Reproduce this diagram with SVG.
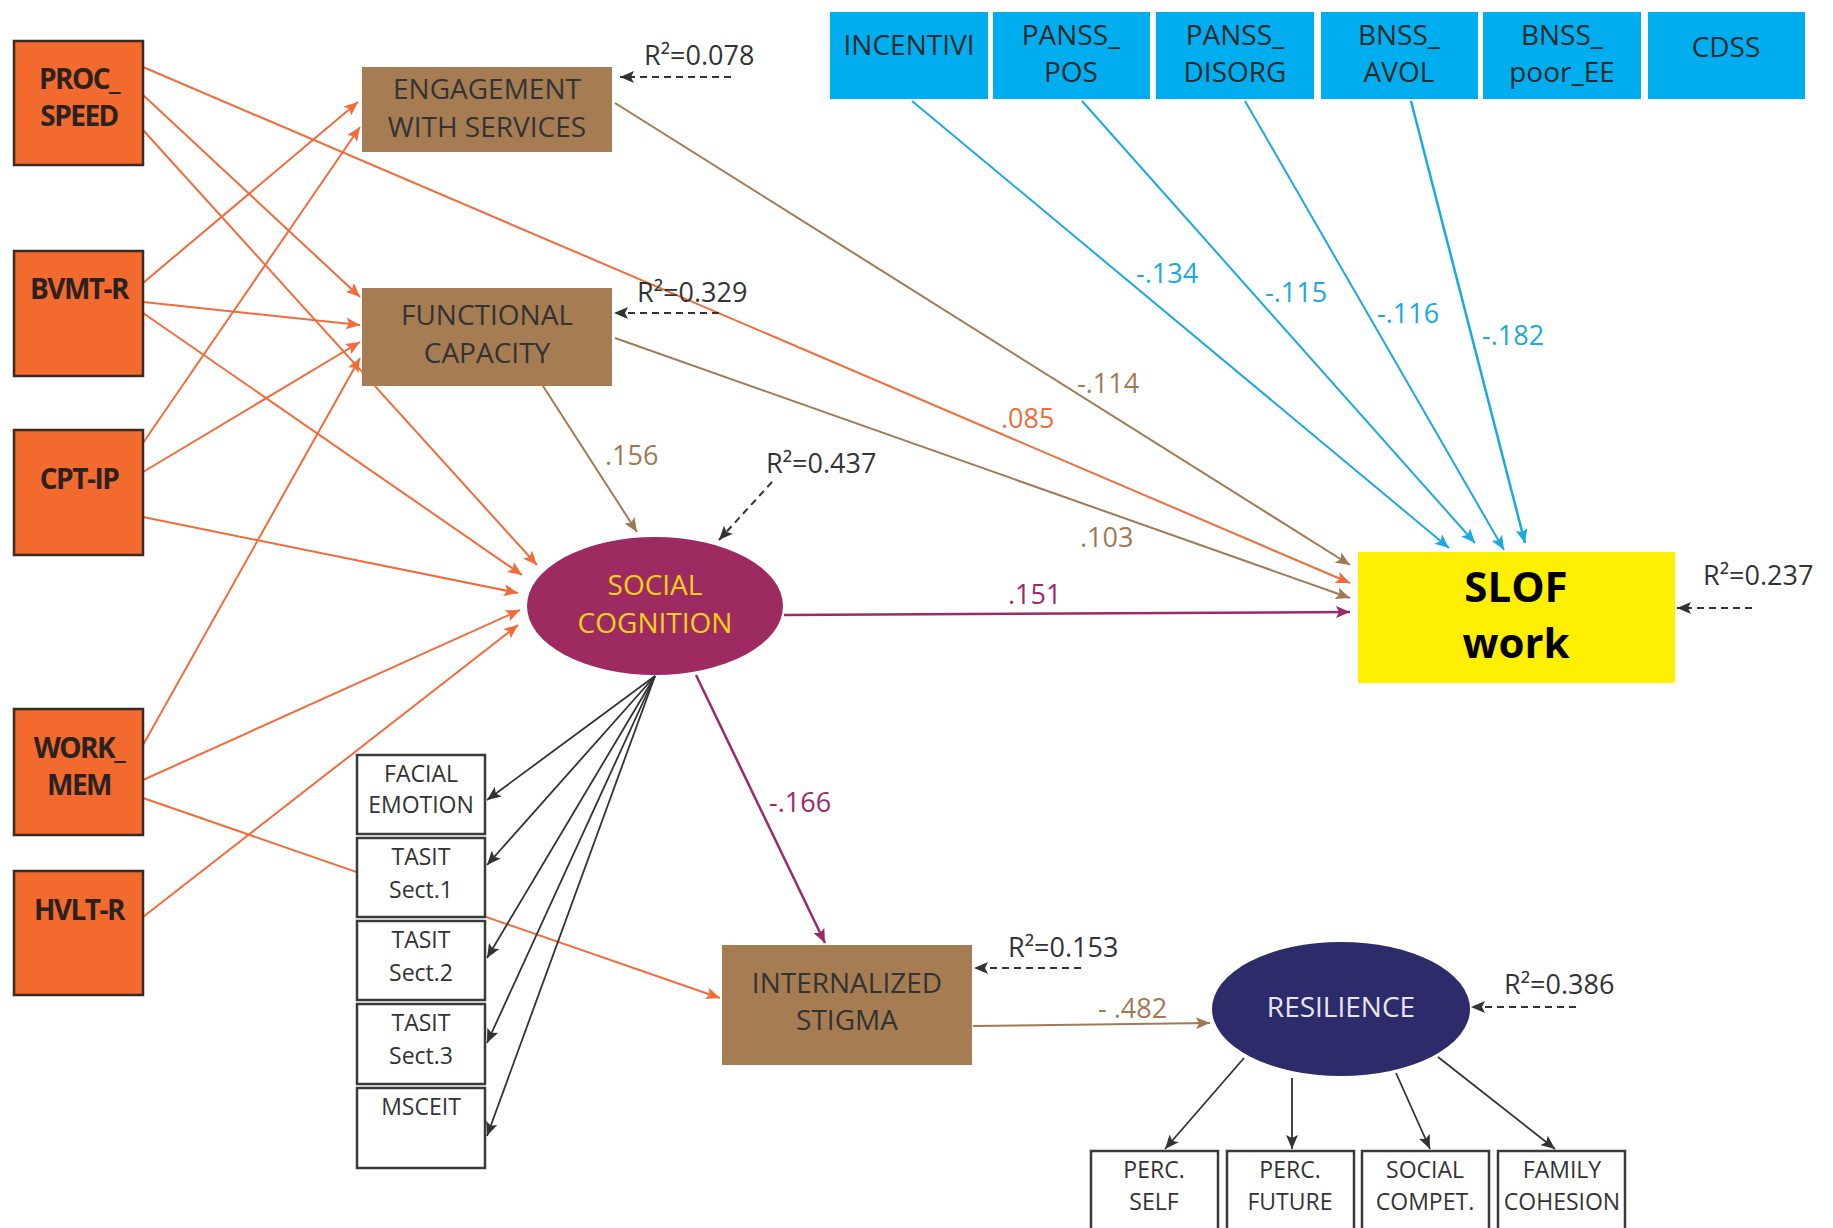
<svg xmlns="http://www.w3.org/2000/svg" width="1833" height="1228" viewBox="0 0 1833 1228">
<style>
text{font-family:"Open Sans","Noto Sans","DejaVu Sans",sans-serif;text-anchor:middle}
.ob{fill:#F26A2E;stroke:#3A2A22;stroke-width:2.5}
.ot{font-weight:bold;font-size:28px;fill:#2B2220;letter-spacing:-1.5px}
.br{fill:#A67C52}
.bt{font-size:28px;fill:#333}
.bl{fill:#00AEEF}
.blt{font-size:28px;fill:#2A2A2A}
.ind{fill:#fff;stroke:#3A3A3A;stroke-width:2.5}
.it{font-size:23px;fill:#333}
.r2{font-size:27px;fill:#333;text-anchor:start}
.lab{font-size:27px;text-anchor:start}
.eo{stroke:#F26B3A;stroke-width:2;fill:none;marker-end:url(#aO)}
.eb{stroke:#A07A55;stroke-width:2;fill:none;marker-end:url(#aB)}
.ec{stroke:#1AA9E1;stroke-width:2;fill:none;marker-end:url(#aC)}
.ep{stroke:#9B2A6B;stroke-width:2.5;fill:none;marker-end:url(#aP)}
.ek{stroke:#333;stroke-width:1.8;fill:none;marker-end:url(#aK)}
.ed{stroke:#333;stroke-width:2;stroke-dasharray:7,5;fill:none;marker-end:url(#aK)}
</style>
<defs>
<marker id="aO" viewBox="0 0 14 12" refX="14" refY="6" markerWidth="14" markerHeight="12" orient="auto" markerUnits="userSpaceOnUse"><path d="M0,0 L14,6 L0,12 L3,6 z" fill="#F26B3A"/></marker>
<marker id="aB" viewBox="0 0 14 12" refX="14" refY="6" markerWidth="14" markerHeight="12" orient="auto" markerUnits="userSpaceOnUse"><path d="M0,0 L14,6 L0,12 L3,6 z" fill="#A07A55"/></marker>
<marker id="aC" viewBox="0 0 14 12" refX="14" refY="6" markerWidth="14" markerHeight="12" orient="auto" markerUnits="userSpaceOnUse"><path d="M0,0 L14,6 L0,12 L3,6 z" fill="#1AA9E1"/></marker>
<marker id="aP" viewBox="0 0 14 12" refX="14" refY="6" markerWidth="14" markerHeight="12" orient="auto" markerUnits="userSpaceOnUse"><path d="M0,0 L14,6 L0,12 L3,6 z" fill="#9B2A6B"/></marker>
<marker id="aK" viewBox="0 0 14 12" refX="14" refY="6" markerWidth="14" markerHeight="12" orient="auto" markerUnits="userSpaceOnUse"><path d="M0,0 L14,6 L0,12 L3,6 z" fill="#333"/></marker>
</defs>
<rect width="1833" height="1228" fill="#fff"/>
<g id="connectors">
<line class="eo" x1="143" y1="67" x2="1350" y2="583"/>
<line class="eo" x1="143" y1="95" x2="360" y2="297"/>
<line class="eo" x1="143" y1="130" x2="537" y2="565"/>
<line class="eo" x1="143" y1="283" x2="358" y2="102"/>
<line class="eo" x1="143" y1="302" x2="360" y2="325"/>
<line class="eo" x1="143" y1="313" x2="522" y2="575"/>
<line class="eo" x1="143" y1="443" x2="360" y2="127"/>
<line class="eo" x1="143" y1="472" x2="360" y2="342"/>
<line class="eo" x1="143" y1="517" x2="518" y2="593"/>
<line class="eo" x1="143" y1="745" x2="360" y2="358"/>
<line class="eo" x1="143" y1="780" x2="520" y2="610"/>
<line class="eo" x1="143" y1="798" x2="720" y2="998"/>
<line class="eo" x1="143" y1="917" x2="518" y2="625"/>
<line class="eb" x1="615" y1="103" x2="1350" y2="565"/>
<line class="eb" x1="615" y1="338" x2="1350" y2="598"/>
<line class="eb" x1="543" y1="386" x2="637" y2="532"/>
<line class="eb" x1="973" y1="1026" x2="1210" y2="1023"/>
<line class="ep" x1="784" y1="615" x2="1350" y2="612"/>
<line class="ep" x1="696" y1="675" x2="825" y2="943"/>
<line class="ec" x1="912" y1="101" x2="1449" y2="548"/>
<line class="ec" x1="1082" y1="101" x2="1475" y2="543"/>
<line class="ec" x1="1245" y1="101" x2="1504" y2="550"/>
<line class="ec" x1="1411" y1="101" x2="1525" y2="543" style="stroke-width:2.5"/>
<line class="ek" x1="655" y1="676" x2="487" y2="800"/>
<line class="ek" x1="655" y1="676" x2="487" y2="865"/>
<line class="ek" x1="655" y1="676" x2="487" y2="958"/>
<line class="ek" x1="655" y1="676" x2="487" y2="1043"/>
<line class="ek" x1="655" y1="676" x2="487" y2="1136"/>
<line class="ek" x1="1244" y1="1058" x2="1165" y2="1149"/>
<line class="ek" x1="1292" y1="1078" x2="1292" y2="1149"/>
<line class="ek" x1="1396" y1="1073" x2="1430" y2="1149"/>
<line class="ek" x1="1438" y1="1057" x2="1555" y2="1149"/>
<line class="ed" x1="731" y1="77" x2="620" y2="77"/>
<line class="ed" x1="719" y1="313" x2="614" y2="313"/>
<line class="ed" x1="772" y1="482" x2="719" y2="540"/>
<line class="ed" x1="1752" y1="608" x2="1677" y2="608"/>
<line class="ed" x1="1081" y1="968" x2="974" y2="968"/>
<line class="ed" x1="1576" y1="1007" x2="1471" y2="1007"/>
<text class="lab" x="1001" y="428" fill="#F26B3A">.085</text>
<text class="lab" x="1077" y="393" fill="#A07A55">-.114</text>
<text class="lab" x="1080" y="547" fill="#A07A55">.103</text>
<text class="lab" x="605" y="465" fill="#A07A55">.156</text>
<text class="lab" x="1098" y="1018" fill="#A07A55">- .482</text>
<text class="lab" x="1008" y="604" fill="#9B2A6B">.151</text>
<text class="lab" x="769" y="812" fill="#9B2A6B">-.166</text>
<text class="lab" x="1136" y="283" fill="#1AA9E1">-.134</text>
<text class="lab" x="1265" y="302" fill="#1AA9E1">-.115</text>
<text class="lab" x="1377" y="323" fill="#1AA9E1">-.116</text>
<text class="lab" x="1482" y="345" fill="#1AA9E1">-.182</text>
<text class="r2" x="644" y="65">R²=0.078</text>
<text class="r2" x="637" y="302">R²=0.329</text>
<text class="r2" x="766" y="473">R²=0.437</text>
<text class="r2" x="1703" y="585">R²=0.237</text>
<text class="r2" x="1008" y="957">R²=0.153</text>
<text class="r2" x="1504" y="994">R²=0.386</text>
</g>
<g id="proc_speed"><rect class="ob" x="14" y="41" width="129" height="124"/><text class="ot" x="79" y="89">PROC_</text><text class="ot" x="79" y="126">SPEED</text></g>
<g id="bvmt_r"><rect class="ob" x="14" y="251" width="129" height="125"/><text class="ot" x="79" y="299">BVMT-R</text></g>
<g id="cpt_ip"><rect class="ob" x="14" y="430" width="129" height="125"/><text class="ot" x="79" y="489">CPT-IP</text></g>
<g id="work_mem"><rect class="ob" x="14" y="709" width="129" height="126"/><text class="ot" x="79" y="758">WORK_</text><text class="ot" x="79" y="795">MEM</text></g>
<g id="hvlt_r"><rect class="ob" x="14" y="871" width="129" height="124"/><text class="ot" x="79" y="920">HVLT-R</text></g>
<g id="engagement"><rect class="br" x="362" y="67" width="250" height="85"/><text class="bt" x="487" y="99">ENGAGEMENT</text><text class="bt" x="487" y="137">WITH SERVICES</text></g>
<g id="functional"><rect class="br" x="362" y="288" width="250" height="98"/><text class="bt" x="487" y="325">FUNCTIONAL</text><text class="bt" x="487" y="363">CAPACITY</text></g>
<g id="incentivi"><rect class="bl" x="830" y="12" width="158" height="87"/><text class="blt" x="909" y="55">INCENTIVI</text></g>
<g id="panss_pos"><rect class="bl" x="993" y="12" width="157" height="87"/><text class="blt" x="1071" y="45">PANSS_</text><text class="blt" x="1071" y="82">POS</text></g>
<g id="panss_disorg"><rect class="bl" x="1156" y="12" width="158" height="87"/><text class="blt" x="1235" y="45">PANSS_</text><text class="blt" x="1235" y="82">DISORG</text></g>
<g id="bnss_avol"><rect class="bl" x="1321" y="12" width="157" height="87"/><text class="blt" x="1399" y="45">BNSS_</text><text class="blt" x="1399" y="82">AVOL</text></g>
<g id="bnss_poor_ee"><rect class="bl" x="1483" y="12" width="158" height="87"/><text class="blt" x="1562" y="45">BNSS_</text><text class="blt" x="1562" y="82">poor_EE</text></g>
<g id="cdss"><rect class="bl" x="1648" y="12" width="157" height="87"/><text class="blt" x="1726" y="57">CDSS</text></g>
<g id="slof_work"><rect x="1358" y="552" width="317" height="131" fill="#FFEF00"/><text x="1516" y="602" font-size="42" font-weight="bold" fill="#000">SLOF</text><text x="1516" y="658" font-size="42" font-weight="bold" fill="#000">work</text></g>
<g id="social_cognition"><ellipse cx="655" cy="606" rx="128" ry="69" fill="#9E2A62"/><text x="655" y="595" font-size="28" fill="#F7D117">SOCIAL</text><text x="655" y="633" font-size="28" fill="#F7D117">COGNITION</text></g>
<g id="facial_emotion"><rect class="ind" x="357" y="755" width="128" height="79"/><text class="it" x="421" y="782">FACIAL</text><text class="it" x="421" y="813">EMOTION</text></g>
<g id="tasit1"><rect class="ind" x="357" y="838" width="128" height="79"/><text class="it" x="421" y="865">TASIT</text><text class="it" x="421" y="898">Sect.1</text></g>
<g id="tasit2"><rect class="ind" x="357" y="921" width="128" height="79"/><text class="it" x="421" y="948">TASIT</text><text class="it" x="421" y="981">Sect.2</text></g>
<g id="tasit3"><rect class="ind" x="357" y="1004" width="128" height="80"/><text class="it" x="421" y="1031">TASIT</text><text class="it" x="421" y="1064">Sect.3</text></g>
<g id="msceit"><rect class="ind" x="357" y="1088" width="128" height="80"/><text class="it" x="421" y="1115">MSCEIT</text></g>
<g id="internalized_stigma"><rect class="br" x="722" y="945" width="250" height="120"/><text class="bt" x="847" y="993">INTERNALIZED</text><text class="bt" x="847" y="1030">STIGMA</text></g>
<g id="resilience"><ellipse cx="1341" cy="1009" rx="129" ry="67" fill="#2E2B6A"/><text x="1341" y="1017" font-size="28" fill="#E6E6F0">RESILIENCE</text></g>
<g id="perc_self"><rect class="ind" x="1091" y="1151" width="127" height="80"/><text class="it" x="1154" y="1178">PERC.</text><text class="it" x="1154" y="1210">SELF</text></g>
<g id="perc_future"><rect class="ind" x="1227" y="1151" width="127" height="80"/><text class="it" x="1290" y="1178">PERC.</text><text class="it" x="1290" y="1210">FUTURE</text></g>
<g id="social_compet"><rect class="ind" x="1362" y="1151" width="127" height="80"/><text class="it" x="1425" y="1178">SOCIAL</text><text class="it" x="1425" y="1210">COMPET.</text></g>
<g id="family_cohesion"><rect class="ind" x="1498" y="1151" width="127" height="80"/><text class="it" x="1562" y="1178">FAMILY</text><text class="it" x="1562" y="1210">COHESION</text></g>
</svg>
